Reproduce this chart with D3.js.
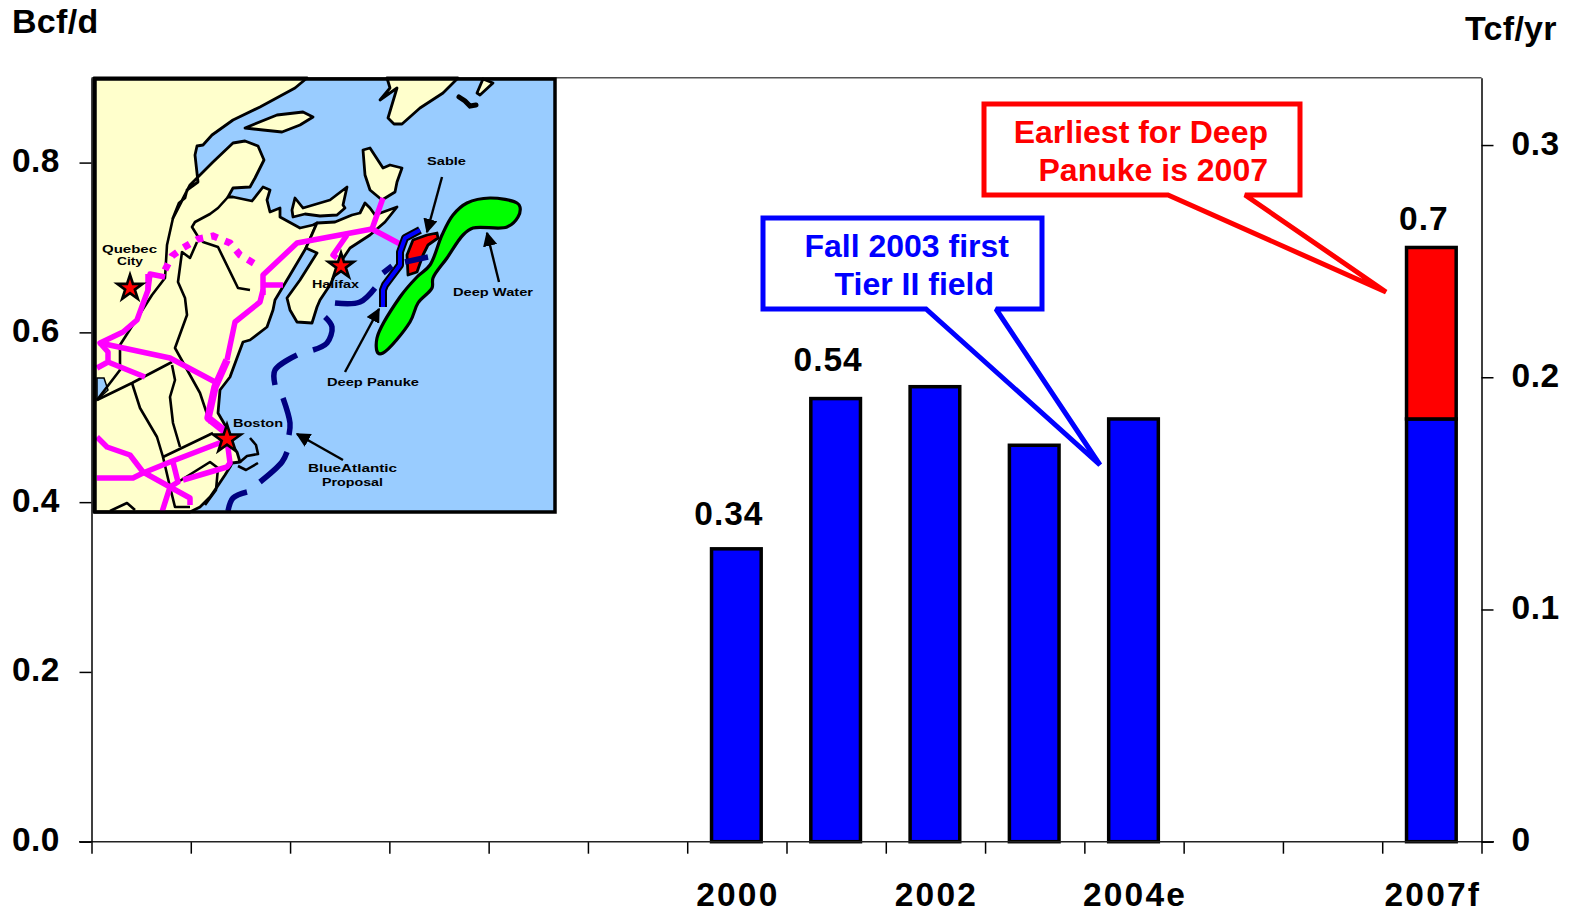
<!DOCTYPE html>
<html>
<head>
<meta charset="utf-8">
<script src="https://cdn.jsdelivr.net/npm/d3@7"></script>
<style>
  html, body { margin: 0; padding: 0; background: #fff; }
  svg { display: block; }
  text { font-family: "Liberation Sans", Arial, sans-serif; font-weight: bold; fill: #000; }
</style>
</head>
<body>
<script>
// chart data
const years = [1994, 1995, 1996, 1997, 1998, 1999, 2000, 2001, 2002, 2003, 2004, 2005, 2006, 2007];
const barYears = [2000, 2001, 2002, 2003, 2004, 2007];
const existingBcf = [0.345, 0.522, 0.536, 0.467, 0.498, 0.498];
const deepPanukeBcf = [0, 0, 0, 0, 0, 0.202];
const tickLabels = { 2000: "2000", 2002: "2002", 2004: "2004e", 2007: "2007f" };
const leftTicks = [0, 0.2, 0.4, 0.6, 0.8];
const rightTicks = [0, 0.1, 0.2, 0.3];
const barLabels = [
  { year: 2000, text: "0.34", value: 0.345, dy: -24 },
  { year: 2001, text: "0.54", value: 0.522, dy: -28 },
  { year: 2007, text: "0.7", value: 0.70, dy: -17 }
];

// inset map outlines
const mainland = [[94,78],[307,78],[295,88],[260,107],[233,120],[212,135],[203,145],[197,146],[195,155],[198,182],[187,190],[185,198],[179,203],[173,218],[190,185],[213,162],[233,143],[245,141],[258,146],[264,160],[255,178],[250,187],[233,188],[228,197],[233,197],[252,201],[263,187],[270,190],[267,200],[270,212],[280,208],[280,217],[300,228],[313,225],[317,223],[306,248],[290,275],[275,300],[273,310],[267,327],[250,340],[243,342],[237,358],[230,377],[220,390],[218,413],[225,425],[228,440],[237,452],[240,462],[232,463],[230,467],[225,475],[217,487],[210,497],[200,507],[190,512],[94,512]];
const novaScotia = [[317,223],[335,222],[352,215],[360,213],[365,203],[370,208],[375,215],[397,207],[385,222],[370,235],[350,248],[342,260],[330,285],[320,300],[317,307],[312,323],[297,322],[290,310],[287,298],[300,280],[317,253],[306,248]];
const capeBreton = [[363,150],[370,148],[383,168],[390,165],[402,168],[397,182],[395,192],[382,200],[370,190],[365,175]];
const newfoundland = [[387,78],[390,88],[380,100],[397,88],[388,118],[394,124],[402,124],[420,108],[443,93],[458,78]];
const smallIsland = [[477,93],[480,95],[493,83],[483,79]];
const anticosti = [[245,128],[277,115],[303,112],[313,117],[300,125],[282,132],[263,130]];
const pei = [[295,198],[303,208],[330,200],[347,187],[343,205],[345,208],[337,215],[320,216],[305,214],[293,217],[292,210]];
const lake = [[97,378],[104,378],[108,390],[97,400]];
const blob = [[459,97],[465,101],[470,106],[476,105]];
const borders = [
  [[228,197],[218,208],[210,214],[195,222],[192,227],[197,235],[203,242],[218,247],[238,288],[250,290]],
  [[197,242],[190,258],[182,252],[178,282],[185,298],[187,315],[175,348],[200,393],[210,423]],
  [[173,218],[167,245],[165,278],[152,295],[120,345],[120,370],[97,400]],
  [[172,362],[132,383],[97,400]],
  [[132,383],[140,408],[157,437],[163,457],[213,433]],
  [[172,365],[175,380],[170,397],[173,423],[180,447]],
  [[163,457],[170,487],[175,507],[190,507]],
  [[178,482],[210,462],[218,468],[216,490],[205,505]],
  [[110,511],[127,503],[135,510]],
  [[250,438],[256,445],[258,454],[247,456],[240,462]],
  [[238,466],[246,470],[258,463]]
];
const pipelines = [
  { width: 5.5, pts: [[263,295],[263,275],[297,243],[372,229],[402,245]] },
  { width: 5.5, pts: [[372,229],[383,198]] },
  { width: 5.5, pts: [[347,235],[333,255],[337,258]] },
  { width: 5.5, pts: [[263,285],[283,285]] },
  { width: 5.5, pts: [[263,290],[260,302],[235,322],[227,360]] },
  { width: 7.5, pts: [[227,360],[215,387],[208,418],[227,433]] },
  { width: 5.5, pts: [[148,274],[148,290],[137,320],[123,332],[100,343],[170,358],[217,383]] },
  { width: 5.5, pts: [[148,290],[150,274],[165,277]] },
  { width: 5.5, pts: [[100,343],[108,352],[108,362],[97,368]] },
  { width: 5.5, pts: [[108,362],[145,377]] },
  { width: 5.5, pts: [[227,440],[170,462],[143,473],[133,478],[97,478]] },
  { width: 5.5, pts: [[97,437],[107,447],[130,455],[143,472],[170,487],[190,498],[190,505]] },
  { width: 5.5, pts: [[173,462],[178,482],[170,487],[162,512]] },
  { width: 5.5, pts: [[183,480],[227,467],[230,463],[227,440]] }
];
const proposedPipeline = [[165,270],[172,256],[183,248],[198,239],[213,236],[230,243],[240,255],[255,264]];
const blueAtlantic = [
  [[228,511],[233,498],[247,492]],
  [[260,482],[282,462],[287,452]],
  [[289,435],[290,423],[283,398]],
  [[275,385],[275,370],[297,355]],
  [[313,350],[327,343],[332,327],[325,317]],
  [[335,303],[360,302],[375,288]],
  [[383,273],[392,266]],
  [[405,262],[428,257]]
];
const sableLine = [[420,230],[405,238],[400,252],[400,265],[385,285],[383,290],[383,307]];
const sableField = [[427,235],[437,233],[438,238],[428,245],[423,255],[417,272],[408,275],[407,255],[413,240]];
const deepWater = [[520,207],[518,217],[507,227],[473,228],[463,235],[447,258],[433,278],[432,288],[418,303],[410,322],[383,353],[378,353],[377,338],[400,297],[417,277],[430,265],[442,235],[453,215],[467,203],[490,198],[517,203]];
const cities = [
  { name: "Quebec", x: 130, y: 288, size: 200 },
  { name: "Halifax", x: 341, y: 266, size: 200 },
  { name: "Boston", x: 227, y: 439, size: 240 }
];
const mapLabels = [
  ["Quebec", 102, 253, 55], ["City", 117, 265, 26], ["Sable", 427, 165, 39],
  ["Deep Water", 453, 296, 80], ["Deep Panuke", 327, 386, 92], ["Boston", 233, 427, 50],
  ["Halifax", 312, 288, 47], ["BlueAtlantic", 308, 472, 89], ["Proposal", 322, 486, 61]
];
const mapArrows = [
  [[442,177],[427,232]], [[499,282],[487,233]], [[345,372],[379,309]], [[343,460],[297,434]]
];

const width = 1574;
const height = 913;
const plotLeft = 91.5;
const plotRight = 1481.5;
const plotTop = 77.7;
const plotBottom = 841.7;
const fontSize = 33.5;

const svg = d3.select("body").append("svg")
  .attr("width", width)
  .attr("height", height)
  .attr("viewBox", `0 0 ${width} ${height}`);

const defs = svg.append("defs");
defs.append("marker")
  .attr("id", "arrow")
  .attr("viewBox", "0 0 10 10")
  .attr("refX", 9).attr("refY", 5)
  .attr("markerWidth", 6).attr("markerHeight", 6)
  .attr("orient", "auto")
  .append("path").attr("d", "M0,0L10,5L0,10Z").attr("fill", "#000");

const x = d3.scaleBand().domain(years).range([plotLeft, plotRight]).paddingInner(0.5).paddingOuter(0.25);
const xStep = d3.scaleBand().domain(years).range([plotLeft, plotRight]);
const yLeft = d3.scaleLinear().domain([0, 0.9]).range([plotBottom, plotTop]);
const yRight = d3.scaleLinear().domain([0, 0.329]).range([plotBottom, plotTop]);

//////// plot frame
svg.append("line").attr("x1", plotLeft).attr("x2", plotRight).attr("y1", plotTop).attr("y2", plotTop)
  .attr("stroke", "#555").attr("stroke-width", 1.5);

//////// bars
const table = barYears.map((year, i) => ({ year, existing: existingBcf[i], panuke: deepPanukeBcf[i] }));
const stacked = d3.stack().keys(["existing", "panuke"])(table);
const barColor = { existing: "#0000FF", panuke: "#FF0000" };

svg.append("g").attr("transform", "translate(-0.5,0)").selectAll("g")
  .data(stacked)
  .join("g")
    .attr("fill", d => barColor[d.key])
    .attr("stroke", "#000")
    .attr("stroke-width", 3.5)
  .selectAll("rect")
  .data(d => d.filter(v => v[1] > v[0]))
  .join("rect")
    .attr("x", d => x(d.data.year))
    .attr("width", x.bandwidth())
    .attr("y", d => yLeft(d[1]))
    .attr("height", d => yLeft(d[0]) - yLeft(d[1]));

//////// axes
const bottomAxis = d3.axisBottom(d3.scaleLinear().domain([0, years.length]).range([plotLeft, plotRight]))
  .ticks(years.length).tickSize(12).tickFormat("");
const axisBottomG = svg.append("g").attr("transform", `translate(0,${plotBottom})`).call(bottomAxis);
axisBottomG.select(".domain").remove();
axisBottomG.selectAll("line").attr("stroke-width", 1.5);
svg.append("line").attr("x1", 79).attr("x2", 1494).attr("y1", plotBottom).attr("y2", plotBottom)
  .attr("stroke", "#222").attr("stroke-width", 1.6);

const leftG = svg.append("g").attr("transform", `translate(${plotLeft},0)`)
  .call(d3.axisLeft(yLeft).tickValues(leftTicks).tickSize(12).tickSizeOuter(0).tickFormat(d3.format(".1f")));
const rightG = svg.append("g").attr("transform", `translate(${plotRight},0)`)
  .call(d3.axisRight(yRight).tickValues(rightTicks).tickSize(12).tickSizeOuter(0).tickFormat(d => d === 0 ? "0" : d3.format(".1f")(d)));
[leftG, rightG].forEach(g => {
  g.selectAll("path.domain").attr("stroke-width", 1.5);
  g.selectAll("line").attr("stroke-width", 1.5);
  g.selectAll("text").attr("font-size", fontSize).attr("letter-spacing", 0.5)
    .style("font-family", '"Liberation Sans", Arial, sans-serif').style("font-weight", "bold")
    .attr("dy", "0.27em");
});
leftG.selectAll("text").attr("x", -31.5);
rightG.selectAll("text").attr("x", 30);

svg.append("g").selectAll("text")
  .data(years.filter(y => tickLabels[y]))
  .join("text")
    .attr("x", d => xStep(d) + xStep.bandwidth() / 2 + 1)
    .attr("y", 906)
    .attr("text-anchor", "middle")
    .attr("font-size", fontSize)
    .attr("letter-spacing", 2.2)
    .text(d => tickLabels[d]);

svg.append("text").attr("x", 12).attr("y", 33).attr("font-size", 34).attr("letter-spacing", 0.3).text("Bcf/d");
svg.append("text").attr("x", 1465).attr("y", 40).attr("font-size", 34).attr("letter-spacing", 0.3).text("Tcf/yr");

svg.append("g").selectAll("text")
  .data(barLabels)
  .join("text")
    .attr("x", d => xStep(d.year) + xStep.bandwidth() / 2 - 8)
    .attr("y", d => yLeft(d.value) + d.dy)
    .attr("text-anchor", "middle")
    .attr("font-size", fontSize)
    .attr("letter-spacing", 1)
    .text(d => d.text);

//////// callouts
function callout(rect, tail, color, lines) {
  const g = svg.append("g");
  const [x0, y0, x1, y1] = rect;
  const path = d3.path();
  path.moveTo(x0, y0);
  path.lineTo(x1, y0);
  path.lineTo(x1, y1);
  path.lineTo(tail[2][0], y1);
  path.lineTo(tail[1][0], tail[1][1]);
  path.lineTo(tail[0][0], y1);
  path.lineTo(x0, y1);
  path.closePath();
  g.append("path").attr("d", path.toString()).attr("fill", "#fff").attr("stroke", color)
    .attr("stroke-width", 5).attr("stroke-linejoin", "miter").attr("stroke-miterlimit", 2);
  g.selectAll("text").data(lines).join("text")
    .attr("x", d => d[0]).attr("y", d => d[1]).attr("text-anchor", "end")
    .attr("font-size", 32).style("fill", color).text(d => d[2]);
}
callout([984, 104, 1300, 195], [[1168,195],[1386,292],[1245,195]], "#FF0000",
  [[1268, 143, "Earliest for Deep"], [1268, 181, "Panuke is 2007"]]);
callout([763, 218, 1042, 309], [[926,309],[1100,465],[996,309]], "#0000FF",
  [[1009, 257, "Fall 2003 first"], [994, 295, "Tier II field"]]);

//////// inset map
const map = svg.append("g");
const mapX = d3.scaleIdentity();
const mapY = d3.scaleIdentity();
const mapLine = d3.line().x(d => mapX(d[0])).y(d => mapY(d[1]));
const smoothClosed = d3.line().x(d => mapX(d[0])).y(d => mapY(d[1])).curve(d3.curveCatmullRomClosed);
const smoothOpen = d3.line().x(d => mapX(d[0])).y(d => mapY(d[1])).curve(d3.curveCatmullRom);

map.append("rect").attr("x", 95).attr("y", 79).attr("width", 460).attr("height", 433).attr("fill", "#99CCFF");

map.selectAll(".land")
  .data([mainland, novaScotia, capeBreton, newfoundland, smallIsland, anticosti, pei])
  .join("path")
    .attr("class", "land")
    .attr("d", d => mapLine(d) + "Z")
    .attr("fill", "#FFFFCC")
    .attr("stroke", "#000")
    .attr("stroke-width", 2.8)
    .attr("stroke-linejoin", "round");

map.append("path").attr("d", mapLine(lake) + "Z").attr("fill", "#99CCFF").attr("stroke", "#000").attr("stroke-width", 1.5);
map.append("path").attr("d", mapLine(blob)).attr("fill", "none").attr("stroke", "#000").attr("stroke-width", 5).attr("stroke-linecap", "round");

map.selectAll(".border")
  .data(borders)
  .join("path")
    .attr("class", "border")
    .attr("d", mapLine)
    .attr("fill", "none")
    .attr("stroke", "#000")
    .attr("stroke-width", 2.6)
    .attr("stroke-linejoin", "round");

map.selectAll(".pipe")
  .data(pipelines)
  .join("path")
    .attr("class", "pipe")
    .attr("d", d => mapLine(d.pts))
    .attr("fill", "none")
    .attr("stroke", "#FF00FF")
    .attr("stroke-width", d => d.width)
    .attr("stroke-linejoin", "round");

map.append("path").attr("d", mapLine(proposedPipeline)).attr("fill", "none")
  .attr("stroke", "#FF00FF").attr("stroke-width", 7).attr("stroke-dasharray", "7,8");

map.append("path").attr("d", smoothClosed(deepWater)).attr("fill", "#00FF00").attr("stroke", "#000").attr("stroke-width", 3.2);
map.append("path").attr("d", mapLine(sableLine)).attr("fill", "none").attr("stroke", "#000").attr("stroke-width", 8).attr("stroke-linejoin", "round");
map.append("path").attr("d", mapLine(sableLine)).attr("fill", "none").attr("stroke", "#0000FF").attr("stroke-width", 4).attr("stroke-linejoin", "round");
map.append("path").attr("d", mapLine(sableField) + "Z").attr("fill", "#FF0000").attr("stroke", "#000").attr("stroke-width", 2.8).attr("stroke-linejoin", "round");

map.selectAll(".atlantic")
  .data(blueAtlantic)
  .join("path")
    .attr("class", "atlantic")
    .attr("d", smoothOpen)
    .attr("fill", "none")
    .attr("stroke", "#000080")
    .attr("stroke-width", 5.5);

map.selectAll(".city")
  .data(cities)
  .join("path")
    .attr("class", "city")
    .attr("d", d => d3.symbol(d3.symbolStar, d.size)())
    .attr("transform", d => `translate(${mapX(d.x)},${mapY(d.y)})`)
    .attr("fill", "#FF0000")
    .attr("stroke", "#000")
    .attr("stroke-width", 2.6);

map.selectAll(".arrow")
  .data(mapArrows)
  .join("path")
    .attr("class", "arrow")
    .attr("d", mapLine)
    .attr("fill", "none")
    .attr("stroke", "#000")
    .attr("stroke-width", 2.4)
    .attr("marker-end", "url(#arrow)");

map.selectAll(".label")
  .data(mapLabels)
  .join("text")
    .attr("class", "label")
    .attr("x", d => mapX(d[1]))
    .attr("y", d => mapY(d[2]))
    .attr("font-size", 11.5)
    .attr("textLength", d => d[3])
    .attr("lengthAdjust", "spacingAndGlyphs")
    .text(d => d[0]);

map.append("rect").attr("x", 95).attr("y", 79).attr("width", 460).attr("height", 433)
  .attr("fill", "none").attr("stroke", "#000").attr("stroke-width", 3.5);
</script>
</body>
</html>
